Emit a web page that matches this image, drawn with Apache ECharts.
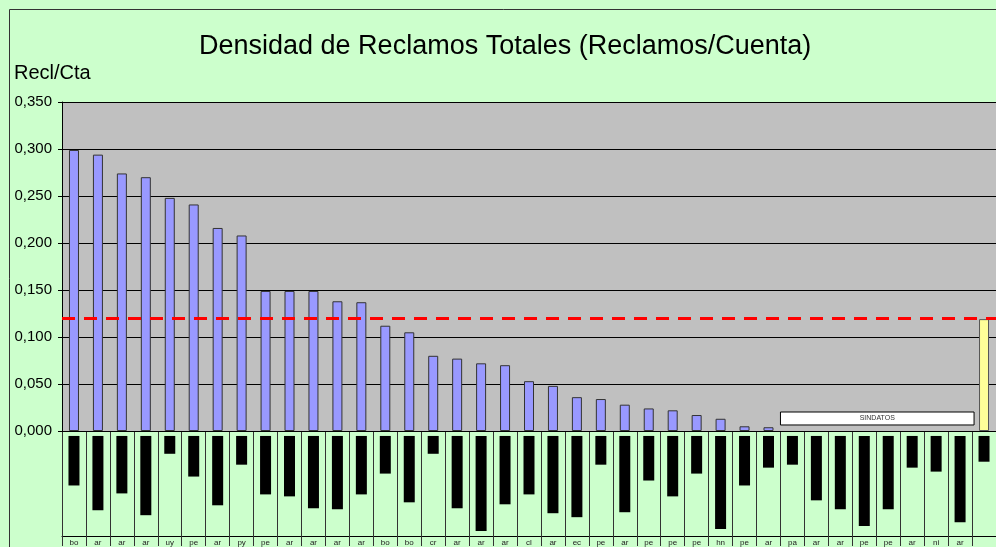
<!DOCTYPE html>
<html>
<head>
<meta charset="utf-8">
<script src="https://cdn.jsdelivr.net/npm/echarts@6/dist/echarts.min.js"></script>
<style>
html, body { margin: 0; padding: 0; background: #CCFFCC; }
#main { width: 996px; height: 547px; }
</style>
</head>
<body>
<div id="main"></div>
<script>
// paises (ultima columna = promedio)
var paises = ['bo','ar','ar','ar','uy','pe','ar','py','pe','ar','ar','ar','ar','bo','bo','cr','ar','ar','ar','cl',
	'ar','ec','pe','ar','pe','pe','pe','hn','pe','ar','pa','ar','ar','pe','pe','ar','ni','ar',''];
// densidad de reclamos (Recl/Cta), null = sin datos
var densidad = [0.299, 0.294, 0.274, 0.270, 0.248, 0.241, 0.216, 0.208, 0.149, 0.149, 0.149, 0.138, 0.137, 0.112, 0.105,
	0.080, 0.077, 0.072, 0.070, 0.053, 0.048, 0.036, 0.034, 0.028, 0.024, 0.022, 0.017, 0.013, 0.005, 0.004,
	null, null, null, null, null, null, null, null];
var promedio = 0.119;
// barras negras de la tabla inferior
var tabla = [50, 75, 58, 80, 18, 41, 70, 29, 59, 61, 73, 74, 59, 38, 67, 18, 73, 96, 69, 59,
	78, 82, 29, 77, 45, 61, 38, 94, 50, 32, 29, 65, 74, 91, 74, 32, 36, 87, 26];
var sinDatos = { desde: 30, hasta: 37, texto: 'SINDATOS' };

var barData = [];
for (var i = 0; i < densidad.length; i++) {
	barData.push(densidad[i] == null ? '-' : densidad[i]);
}
barData.push({ value: promedio, itemStyle: { color: '#FFFF99', borderColor: '#555555' } });

var myChart = echarts.init(document.getElementById('main'));

var option = {
	backgroundColor: '#CCFFCC',
	animation: false,
	title: {
		text: 'Densidad de Reclamos Totales (Reclamos/Cuenta)',
		left: 199,
		top: 33,
		padding: 0,
		textStyle: { fontFamily: 'Liberation Sans', fontSize: 27, fontWeight: 'normal', color: '#000' }
	},
	grid: [
		{ left: 62, top: 102, width: 937, height: 329, backgroundColor: '#C0C0C0', show: true, borderWidth: 0 },
		{ left: 62, top: 431, width: 937, height: 106 }
	],
	xAxis: [{
		type: 'category',
		gridIndex: 0,
		data: paises,
		axisLine: { lineStyle: { color: '#000', width: 1 } },
		axisTick: { show: false },
		axisLabel: { show: false }
	}, {
		type: 'category',
		gridIndex: 1,
		data: paises,
		position: 'bottom',
		axisLine: { onZero: false, lineStyle: { color: '#000', width: 1 } },
		axisTick: { show: true, interval: 0, length: 10, lineStyle: { color: '#333' } },
		axisLabel: { interval: 0, margin: 3, fontSize: 8, color: '#222', fontFamily: 'Liberation Sans' },
		splitLine: { show: true, interval: 0, lineStyle: { color: '#333', width: 1 } }
	}],
	yAxis: [{
		type: 'value',
		gridIndex: 0,
		min: 0,
		max: 0.35,
		interval: 0.05,
		axisLine: { show: true, lineStyle: { color: '#000' } },
		axisTick: { show: true, length: 4, lineStyle: { color: '#000' } },
		axisLabel: {
			margin: 10,
			fontSize: 15,
			color: '#000',
			fontFamily: 'Liberation Sans',
			formatter: function (v) { return v.toFixed(3).replace('.', ','); }
		},
		splitLine: { lineStyle: { color: '#000', width: 1 } }
	}, {
		type: 'value',
		gridIndex: 1,
		inverse: true,
		min: -5,
		max: 101,
		show: false
	}],
	series: [{
		name: 'Recl/Cta',
		type: 'bar',
		xAxisIndex: 0,
		yAxisIndex: 0,
		barWidth: 10,
		itemStyle: { color: '#9999FF', borderColor: '#333333', borderWidth: 1 },
		data: barData,
		markLine: {
			silent: true,
			symbol: 'none',
			label: { show: false },
			lineStyle: { color: '#FF0000', width: 3, type: [13, 9] },
			data: [{ yAxis: promedio }]
		}
	}, {
		name: 'tabla',
		type: 'bar',
		xAxisIndex: 1,
		yAxisIndex: 1,
		barWidth: 11,
		itemStyle: { color: '#000' },
		data: tabla
	}]
};
myChart.setOption(option);

// caja "SIN DATOS" y marco
var half = (myChart.convertToPixel({ xAxisIndex: 0 }, 1) - myChart.convertToPixel({ xAxisIndex: 0 }, 0)) / 2;
var x1 = myChart.convertToPixel({ xAxisIndex: 0 }, sinDatos.desde) - half;
var x2 = myChart.convertToPixel({ xAxisIndex: 0 }, sinDatos.hasta) + half + 2;
var y1 = myChart.convertToPixel({ yAxisIndex: 0 }, 0.0202);
var y2 = myChart.convertToPixel({ yAxisIndex: 0 }, 0.0064);

myChart.setOption({
	graphic: [{
		type: 'rect',
		shape: { x: x1, y: y1, width: x2 - x1, height: y2 - y1 },
		style: { fill: '#fff', stroke: '#000', lineWidth: 1 },
		z: 10
	}, {
		type: 'text',
		x: (x1 + x2) / 2,
		y: (y1 + y2) / 2,
		style: { text: sinDatos.texto, fontSize: 7, fill: '#333', align: 'center', verticalAlign: 'middle', fontFamily: 'Liberation Sans' },
		z: 11
	}, {
		type: 'text',
		x: 14,
		y: 63,
		style: { text: 'Recl/Cta', fontSize: 20, fill: '#000', fontFamily: 'Liberation Sans' }
	}, {
		type: 'rect',
		shape: { x: 9.5, y: 9.5, width: 1000, height: 560 },
		style: { fill: 'none', stroke: '#333', lineWidth: 1 }
	}]
});
</script>
</body>
</html>
